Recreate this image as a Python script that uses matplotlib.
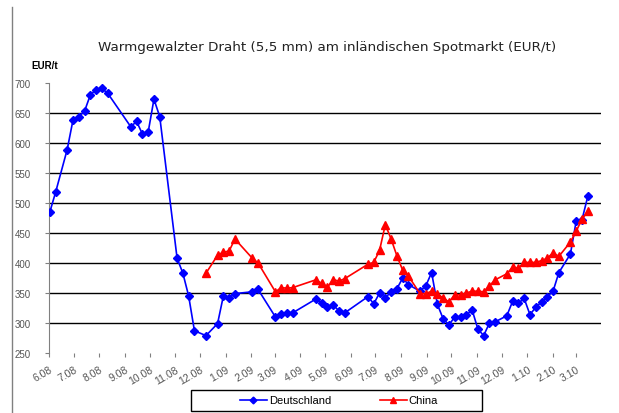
import matplotlib
matplotlib.use("Agg")
import matplotlib.pyplot as plt
import matplotlib.transforms as mtransforms
from matplotlib.lines import Line2D
from matplotlib.patches import Rectangle
import datetime as dt

# ---- data (weekly observations, week index from 2 June 2008) ----
de_weeks = [0, 1, 3, 4, 5, 6, 7, 8, 9, 10, 14, 15, 16, 17, 18, 19, 22, 23, 24, 25,
            27, 29, 30, 31, 32, 35, 36, 39, 40, 41, 42, 46, 47, 48, 49, 50, 51,
            55, 56, 57, 58, 59, 60, 61, 62, 64, 65, 66, 67, 68, 69, 70, 71, 72,
            73, 74, 75, 76, 77, 79, 80, 81, 82, 83, 84, 85, 86, 87, 88, 90, 91,
            92, 93]
de_values = [485, 518, 589, 638, 644, 653, 680, 689, 691, 683, 627, 636, 615, 618,
             673, 644, 408, 383, 345, 287, 279, 299, 345, 342, 349, 352, 356, 310,
             315, 317, 317, 340, 334, 326, 330, 320, 317, 344, 332, 350, 342, 352,
             357, 375, 364, 353, 362, 384, 331, 307, 297, 310, 310, 313, 322, 290,
             279, 300, 302, 312, 336, 333, 341, 314, 326, 335, 344, 353, 384, 415,
             470, 472, 511]

cn_weeks = [27, 29, 30, 31, 32, 35, 36, 39, 40, 41, 42, 46, 47, 48, 49, 50, 51,
            55, 56, 57, 58, 59, 60, 61, 62, 64, 65, 66, 67, 68, 69, 70, 71, 72,
            73, 74, 75, 76, 77, 79, 80, 81, 82, 83, 84, 85, 86, 87, 88, 90, 91,
            92, 93]
cn_values = [383, 413, 418, 420, 440, 408, 400, 352, 359, 358, 359, 372, 366, 360,
             372, 370, 374, 398, 401, 421, 464, 440, 412, 388, 378, 349, 349, 353,
             348, 342, 335, 347, 347, 350, 353, 353, 352, 362, 372, 382, 393, 391,
             401, 401, 401, 404, 408, 417, 411, 435, 453, 473, 486]

start_date = dt.date(2008, 6, 2)
month_ticks = [(2008, m) for m in range(6, 13)] + [(2009, m) for m in range(1, 13)] + \
              [(2010, m) for m in range(1, 4)]
tick_labels = ["6.08", "7.08", "8.08", "9.08", "10.08", "11.08", "12.08", "1.09",
               "2.09", "3.09", "4.09", "5.09", "6.09", "7.09", "8.09", "9.09",
               "10.09", "11.09", "12.09", "1.10", "2.10", "3.10"]
y_ticks = [250, 300, 350, 400, 450, 500, 550, 600, 650, 700]

title = "Warmgewalzter Draht (5,5 mm) am inländischen Spotmarkt (EUR/t)"
unit = "EUR/t"
series_names = ["Deutschland", "China"]

de_dates = [start_date + dt.timedelta(days=7 * w) for w in de_weeks]
cn_dates = [start_date + dt.timedelta(days=7 * w) for w in cn_weeks]

W, H = 619, 414
fig = plt.figure(figsize=(W / 100, H / 100), dpi=100)
ax = fig.add_axes([49 / W, 1 - 354 / H, (601 - 49) / W, (354 - 84) / H])

for y in y_ticks[1:-1]:
    ax.axhline(y, color="black", lw=1.0, zorder=1)

ax.plot(de_dates, de_values, color="#0000FF", lw=1.2, marker="D", ms=4.3,
        label=series_names[0], zorder=3)
ax.plot(cn_dates, cn_values, color="#FF0000", lw=1.2, marker="^", ms=5.5,
        label=series_names[1], zorder=3)

ax.set_ylim(250, 700)
ax.set_xlim(dt.date(2008, 6, 1), dt.date(2010, 3, 31))
ax.set_yticks(y_ticks)
ax.set_yticklabels([str(v) for v in y_ticks], fontsize=7, color="#555555",
                   family="Liberation Sans")
ticks = [dt.date(y, m, 1) for y, m in month_ticks]
ax.set_xticks(ticks)
ax.set_xticklabels(tick_labels, rotation=30, ha="right", rotation_mode="anchor",
                   fontsize=7.5, color="#555555", family="Liberation Sans")
off = mtransforms.ScaledTranslation(4 / 100, 0, fig.dpi_scale_trans)
for lbl in ax.get_xticklabels():
    lbl.set_transform(lbl.get_transform() + off)

for s in ["top", "right", "bottom"]:
    ax.spines[s].set_visible(False)
ax.spines["left"].set_color("#808080")
ax.tick_params(axis="y", length=3, color="#808080", pad=10)
ax.tick_params(axis="x", length=3, color="#808080", pad=5)

fig.text(327 / W, 1 - 47 / H, title, ha="center", va="center", fontsize=9.7,
         color="#222222", family="DejaVu Sans")
fig.text(31 / W, 1 - 66 / H, unit, ha="left", va="center", fontsize=7,
         fontweight="bold", family="Liberation Sans")

fig.add_artist(Line2D([12 / W, 12 / W], [0, 1 - 8 / H], color="#808080", lw=1))

# legend with a wide rectangular frame
fig.add_artist(Rectangle((191 / W, 1 - 412 / H), (482 - 191) / W, (412 - 391) / H,
                         transform=fig.transFigure, facecolor="white",
                         edgecolor="black", lw=1.0, zorder=4))
leg = fig.legend(loc="center", bbox_to_anchor=(339 / W, 1 - 401.5 / H), ncol=2,
                 prop={"family": "Liberation Sans", "size": 8}, frameon=False,
                 handlelength=2.4, handletextpad=0.2, columnspacing=4.4,
                 borderpad=0.2, markerscale=0.8)
leg.set_zorder(5)

fig.savefig("out.png", dpi=100)
